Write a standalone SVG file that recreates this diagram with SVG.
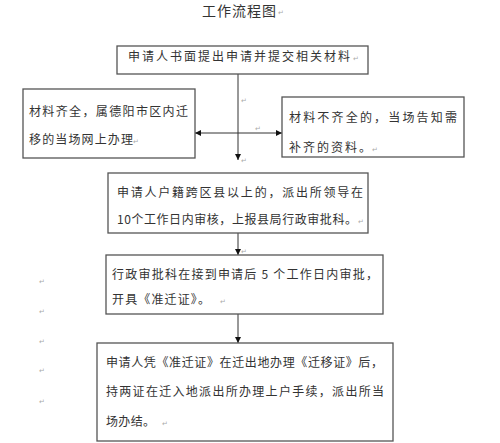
<svg xmlns="http://www.w3.org/2000/svg" width="500" height="443" viewBox="0 0 500 443">
<defs>
<marker id="arr" viewBox="0 0 10 10" refX="10" refY="5" markerWidth="6" markerHeight="6" markerUnits="userSpaceOnUse" orient="auto">
<path d="M0,0 L10,5 L0,10 z" fill="#111"/>
</marker>
</defs>
<style>
.box{fill:#fff;stroke:#555;stroke-width:1.3}
.t{font-family:"Noto Sans CJK SC","Noto Sans CJK JP",sans-serif;font-size:12px;fill:#333}
.title{font-family:"Noto Sans CJK SC",sans-serif;font-size:14px;fill:#333;letter-spacing:1px}
.pm{font-family:"DejaVu Sans",sans-serif;font-size:7px;fill:#aaa}
.ln{stroke:#333;stroke-width:1;fill:none}
</style>
<rect width="500" height="443" fill="#fff"/>
<text class="title" x="202" y="16">工作流程图</text>
<text class="pm" x="278" y="15">↵</text>
<g id="connectors">
<line class="ln" x1="238" y1="74" x2="238" y2="160" marker-end="url(#arr)"/>
<line class="ln" x1="238" y1="133" x2="195" y2="133" marker-end="url(#arr)"/>
<line class="ln" x1="238" y1="133" x2="282" y2="133" marker-end="url(#arr)"/>
<line class="ln" x1="238" y1="233" x2="238" y2="255" marker-end="url(#arr)"/>
<line class="ln" x1="238" y1="314" x2="238" y2="343" marker-end="url(#arr)"/>
</g>
<g id="n1">
<rect class="box" x="117" y="46" width="251" height="28"/>
<text class="t" x="128" y="61" textLength="222" lengthAdjust="spacing">申请人书面提出申请并提交相关材料</text>
<text class="pm" x="353" y="61">↵</text>
</g>
<g id="n2">
<rect class="box" x="23" y="89" width="172" height="69"/>
<text class="t" x="29" y="116" textLength="159" lengthAdjust="spacing">材料齐全，属德阳市区内迁</text>
<text class="t" x="29" y="144" textLength="104" lengthAdjust="spacing">移的当场网上办理</text>
<text class="pm" x="133" y="144">↵</text>
</g>
<g id="n3">
<rect class="box" x="282" y="97" width="182" height="60"/>
<text class="t" x="289" y="122" textLength="168" lengthAdjust="spacing">材料不齐全的，当场告知需</text>
<text class="t" x="289" y="152" textLength="82" lengthAdjust="spacing">补齐的资料。</text>
<text class="pm" x="372" y="152">↵</text>
</g>
<g id="n4">
<rect class="box" x="108" y="173" width="260" height="60"/>
<text class="t" x="117" y="197" textLength="246" lengthAdjust="spacing">申请人户籍跨区县以上的，派出所领导在</text>
<text class="t" x="117" y="224" textLength="240" lengthAdjust="spacing">10个工作日内审核，上报县局行政审批科。</text>
<text class="pm" x="358" y="224">↵</text>
</g>
<g id="n5">
<rect class="box" x="106" y="255" width="277" height="59"/>
<text class="t" x="112" y="279" textLength="266" lengthAdjust="spacing">行政审批科在接到申请后 5 个工作日内审批，</text>
<text class="t" x="112" y="304" textLength="98" lengthAdjust="spacing">开具《准迁证》。</text>
<text class="pm" x="220" y="304">↵</text>
</g>
<g id="n6">
<rect class="box" x="97" y="343" width="296" height="98"/>
<text class="t" x="106" y="367" textLength="277" lengthAdjust="spacing">申请人凭《准迁证》在迁出地办理《迁移证》后，</text>
<text class="t" x="106" y="396" textLength="278" lengthAdjust="spacing">持两证在迁入地派出所办理上户手续，派出所当</text>
<text class="t" x="106" y="426" textLength="49" lengthAdjust="spacing">场办结。</text>
<text class="pm" x="162" y="426">↵</text>
</g>
<g id="marks">
<text class="pm" x="241" y="103">↵</text>
<text class="pm" x="255" y="131">↵</text>
<text class="pm" x="241" y="163">↵</text>
<text class="pm" x="241" y="254">↵</text>
<text class="pm" x="39" y="284">↵</text>
<text class="pm" x="39" y="314">↵</text>
<text class="pm" x="39" y="344">↵</text>
<text class="pm" x="39" y="373">↵</text>
<text class="pm" x="39" y="404">↵</text>
</g>
</svg>
